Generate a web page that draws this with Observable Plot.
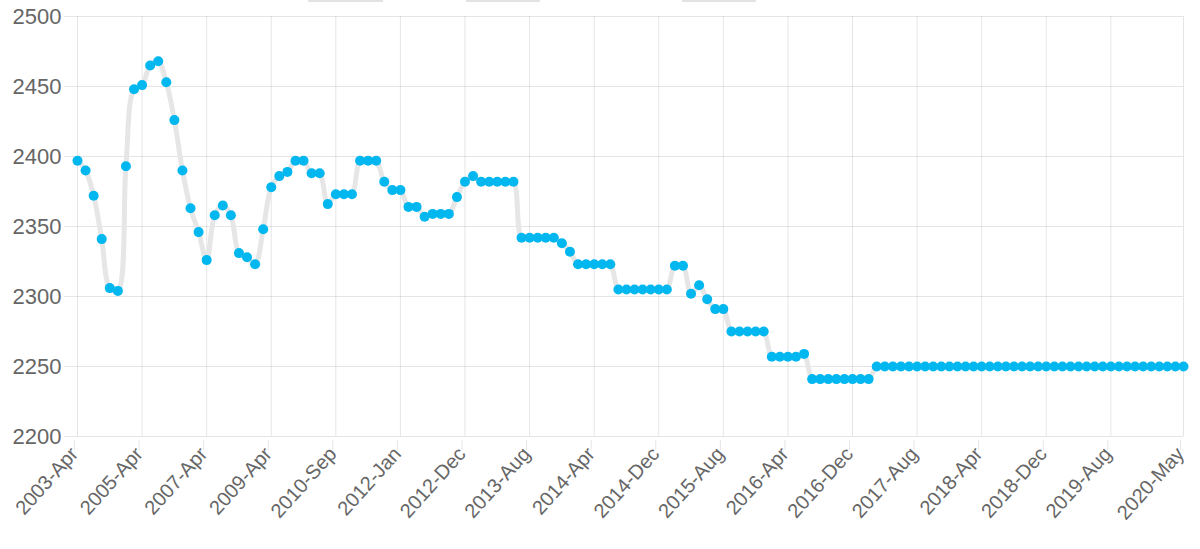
<!DOCTYPE html>
<html><head><meta charset="utf-8">
<script src="https://cdn.jsdelivr.net/npm/d3@7"></script>
<script src="https://cdn.jsdelivr.net/npm/@observablehq/plot@0.6"></script>
<style>
body{margin:0;background:#fff;}
#wrap{position:relative;width:1200px;height:549px;overflow:hidden;}
.lg{position:absolute;top:0;height:2px;background:#e3e3e3;}
</style></head><body>
<div id="wrap">
<div id="chart"></div>
<div class="lg" style="left:308px;width:75px"></div>
<div class="lg" style="left:466px;width:74px"></div>
<div class="lg" style="left:682px;width:74px"></div>
</div>
<script>
const months = [
"2003-Apr","2003-Jul","2003-Oct","2004-Jan","2004-Apr","2004-Jul","2004-Oct","2005-Jan",
"2005-Apr","2005-Jul","2005-Oct","2006-Jan","2006-Apr","2006-Jul","2006-Oct","2007-Jan",
"2007-Apr","2007-Jul","2007-Oct","2008-Jan","2008-Apr","2008-Jul","2008-Oct","2009-Jan",
"2009-Apr","2009-Jul","2009-Sep","2009-Nov","2010-Jan","2010-Mar","2010-May","2010-Jul",
"2010-Sep","2010-Nov","2011-Jan","2011-Mar","2011-May","2011-Jul","2011-Sep","2011-Nov",
"2012-Jan","2012-Mar","2012-May","2012-Jul","2012-Aug","2012-Sep","2012-Oct","2012-Nov",
"2012-Dec","2013-Jan","2013-Feb","2013-Mar","2013-Apr","2013-May","2013-Jun","2013-Jul",
"2013-Aug","2013-Sep","2013-Oct","2013-Nov","2013-Dec","2014-Jan","2014-Feb","2014-Mar",
"2014-Apr","2014-May","2014-Jun","2014-Jul","2014-Aug","2014-Sep","2014-Oct","2014-Nov",
"2014-Dec","2015-Jan","2015-Feb","2015-Mar","2015-Apr","2015-May","2015-Jun","2015-Jul",
"2015-Aug","2015-Sep","2015-Oct","2015-Nov","2015-Dec","2016-Jan","2016-Feb","2016-Mar",
"2016-Apr","2016-May","2016-Jun","2016-Jul","2016-Aug","2016-Sep","2016-Oct","2016-Nov",
"2016-Dec","2017-Jan","2017-Feb","2017-Mar","2017-Apr","2017-May","2017-Jun","2017-Jul",
"2017-Aug","2017-Sep","2017-Oct","2017-Nov","2017-Dec","2018-Jan","2018-Feb","2018-Mar",
"2018-Apr","2018-May","2018-Jun","2018-Jul","2018-Aug","2018-Sep","2018-Oct","2018-Nov",
"2018-Dec","2019-Jan","2019-Feb","2019-Mar","2019-Apr","2019-May","2019-Jun","2019-Jul",
"2019-Aug","2019-Sep","2019-Oct","2019-Nov","2019-Dec","2020-Jan","2020-Feb","2020-Mar",
"2020-Apr","2020-May"
];
const values = [
2397,2390,2372,2341,2306,2304,2393,2448,
2451,2465,2468,2453,2426,2390,2363,2346,
2326,2358,2365,2358,2331,2328,2323,2348,
2378,2386,2389,2397,2397,2388,2388,2366,
2373,2373,2373,2397,2397,2397,2382,2376,
2376,2364,2364,2357,2359,2359,2359,2371,
2382,2386,2382,2382,2382,2382,2382,2342,
2342,2342,2342,2342,2338,2332,2323,2323,
2323,2323,2323,2305,2305,2305,2305,2305,
2305,2305,2322,2322,2302,2308,2298,2291,
2291,2275,2275,2275,2275,2275,2257,2257,
2257,2257,2259,2241,2241,2241,2241,2241,
2241,2241,2241,2250,2250,2250,2250,2250,
2250,2250,2250,2250,2250,2250,2250,2250,
2250,2250,2250,2250,2250,2250,2250,2250,
2250,2250,2250,2250,2250,2250,2250,2250,
2250,2250,2250,2250,2250,2250,2250,2250,
2250,2250
];
const tickLabels = ["2003-Apr","2005-Apr","2007-Apr","2009-Apr","2010-Sep","2012-Jan","2012-Dec",
"2013-Aug","2014-Apr","2014-Dec","2015-Aug","2016-Apr","2016-Dec","2017-Aug","2018-Apr",
"2018-Dec","2019-Aug","2020-May"];
const yTicks = [2200,2250,2300,2350,2400,2450,2500];

const data = months.map((m, i) => ({month: m, value: values[i]}));

const chart = Plot.plot({
  width: 1200, height: 549,
  marginLeft: 77, marginRight: 17, marginTop: 16, marginBottom: 113,
  style: {fontFamily: "'Liberation Sans', Arial, sans-serif", fontSize: "22px", background: "#fff", overflow: "visible"},
  x: {type: "point", domain: months, padding: 0, round: false},
  y: {domain: [2200, 2500]},
  marks: [
    Plot.gridY(yTicks, {stroke: "#000", strokeOpacity: 0.1}),
    Plot.gridX(tickLabels, {stroke: "#000", strokeOpacity: 0.1}),
    Plot.axisY({ticks: yTicks, tickFormat: d => String(d), tickSize: 13, tickPadding: 3, stroke: "#e6e6e6", fill: "#666", label: null}),
    Plot.axisX({ticks: tickLabels, tickSize: 10, tickPadding: 0, tickRotate: -48, fontSize: 20, dx: -3, dy: 4, stroke: "#e6e6e6", fill: "#666", label: null}),
    Plot.line(data, {x: "month", y: "value", stroke: "#e6e6e6", strokeWidth: 5, curve: "catmull-rom"}),
    Plot.dot(data, {x: "month", y: "value", r: 5, fill: "#00b7f0", stroke: "none"})
  ]
});
document.getElementById("chart").appendChild(chart);
</script>
</body></html>
